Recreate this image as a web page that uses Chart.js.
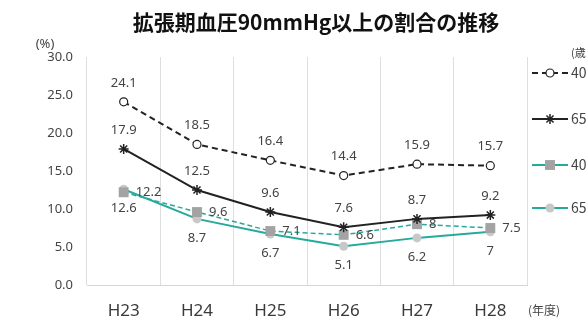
<!DOCTYPE html>
<html>
<head>
<meta charset="utf-8">
<script src="https://cdn.jsdelivr.net/npm/chart.js@4"></script>
<style>
  html, body { margin: 0; padding: 0; background: #fff; }
  #wrap { width: 586px; height: 321px; }
</style>
</head>
<body>
<div id="wrap"><canvas id="c" width="586" height="321"></canvas></div>
<script>
// 年度
const years = ['H23', 'H24', 'H25', 'H26', 'H27', 'H28'];
// 拡張期血圧90mmHg以上の割合 (%)
const male40to64   = [24.1, 18.5, 16.4, 14.4, 15.9, 15.7];
const male65to74   = [17.9, 12.5, 9.6, 7.6, 8.7, 9.2];
const female40to64 = [12.2, 9.6, 7.1, 6.6, 8, 7.5];
const female65to74 = [12.6, 8.7, 6.7, 5.1, 6.2, 7];
const seriesNames = ['40～64歳男性', '65～74歳男性', '40～64歳女性', '65～74歳女性'];
const yTicks = [0, 5, 10, 15, 20, 25, 30];

const TEAL = '#27a99b';
const INK = '#222222';
const LABEL = '#444444';
const FONT = '"Noto Sans", "Noto Sans CJK JP", sans-serif';
const JFONT = '"Noto Sans CJK JP", "Noto Sans", sans-serif';

// value labels beside each point: dx/dy from the point, alignment
const labelPlacement = [
  { dx: 0, dy: -19, align: 'center' },
  { dx: 0, dy: -19, align: 'center' },
  { dx: 12, dy: 0, align: 'left' },
  { dx: 0, dy: 19, align: 'center' }
];

// legend key line dash per series (the key for the third series is solid)
const legendDash = [[6, 4], [], [], []];

const decorations = {
  id: 'decorations',
  afterDatasetsDraw(chart) {
    const ctx = chart.ctx;
    ctx.save();
    ctx.textBaseline = 'middle';
    ctx.font = '13px ' + FONT;
    ctx.fillStyle = LABEL;
    chart.data.datasets.forEach((ds, di) => {
      const meta = chart.getDatasetMeta(di);
      const p = labelPlacement[di];
      ctx.textAlign = p.align;
      meta.data.forEach((pt, i) => {
        ctx.fillText(String(ds.data[i]), pt.x + p.dx, pt.y + p.dy);
      });
    });
    ctx.restore();
  },
  afterDraw(chart) {
    const ctx = chart.ctx;
    ctx.save();
    // title
    ctx.fillStyle = '#111';
    ctx.font = 'bold 21px ' + JFONT;
    ctx.textAlign = 'center';
    ctx.textBaseline = 'middle';
    ctx.fillText('拡張期血圧90mmHg以上の割合の推移', 316, 22);
    // unit labels
    ctx.fillStyle = LABEL;
    ctx.font = '13px ' + FONT;
    ctx.fillText('(%)', 45, 44);
    ctx.font = '12px ' + JFONT;
    ctx.textAlign = 'left';
    ctx.fillText('(年度)', 528, 310);
    ctx.font = '11px ' + JFONT;
    ctx.fillText('(歳)', 571, 53);

    // legend
    const ys = [73, 119, 165, 208];
    chart.data.datasets.forEach((ds, di) => {
      const y = ys[di];
      ctx.save();
      ctx.strokeStyle = ds.borderColor;
      ctx.lineWidth = 2;
      ctx.setLineDash(legendDash[di]);
      ctx.beginPath();
      ctx.moveTo(532, y);
      ctx.lineTo(568, y);
      ctx.stroke();
      ctx.restore();
      ctx.save();
      ctx.fillStyle = ds.pointBackgroundColor;
      ctx.strokeStyle = ds.pointBorderColor;
      ctx.lineWidth = ds.pointBorderWidth;
      Chart.helpers.drawPoint(ctx, {
        pointStyle: ds.pointStyle,
        radius: ds.pointRadius,
        borderWidth: ds.pointBorderWidth
      }, 550, y);
      ctx.restore();
      ctx.fillStyle = LABEL;
      ctx.font = '14px ' + JFONT;
      ctx.textAlign = 'left';
      ctx.textBaseline = 'middle';
      ctx.fillText(ds.label, 571, y);
    });
    ctx.restore();
  }
};

new Chart(document.getElementById('c'), {
  type: 'line',
  data: {
    labels: years,
    datasets: [
      {
        label: seriesNames[0], data: male40to64,
        borderColor: INK, borderWidth: 2, borderDash: [6, 4],
        pointStyle: 'circle', pointRadius: 4,
        pointBackgroundColor: '#fff', pointBorderColor: INK, pointBorderWidth: 1.2
      },
      {
        label: seriesNames[1], data: male65to74,
        borderColor: INK, borderWidth: 2,
        pointStyle: 'star', pointRadius: 5,
        pointBackgroundColor: INK, pointBorderColor: INK, pointBorderWidth: 1.5
      },
      {
        label: seriesNames[2], data: female40to64,
        borderColor: TEAL, borderWidth: 1.5, borderDash: [5, 3],
        pointStyle: 'rect', pointRadius: 7,
        pointBackgroundColor: '#a3a3a3', pointBorderColor: '#a3a3a3', pointBorderWidth: 0
      },
      {
        label: seriesNames[3], data: female65to74,
        borderColor: TEAL, borderWidth: 2,
        pointStyle: 'circle', pointRadius: 4.5,
        pointBackgroundColor: '#c8c8c8', pointBorderColor: '#c8c8c8', pointBorderWidth: 0
      }
    ]
  },
  options: {
    responsive: false,
    animation: false,
    events: [],
    layout: { padding: { top: 57, right: 59, left: 0, bottom: 0 } },
    plugins: { legend: { display: false }, title: { display: false }, tooltip: { enabled: false } },
    elements: { line: { tension: 0 } },
    scales: {
      x: {
        offset: true,
        grid: { offset: true, color: '#dedede', lineWidth: 1, drawTicks: false },
        border: { display: true, color: '#d6d6d6', width: 1 },
        ticks: { color: '#3a3a3a', padding: 16, font: { family: FONT, size: 17 } },
        afterFit(scale) { scale.height = 36; }
      },
      y: {
        min: 0, max: 30,
        afterBuildTicks(scale) { scale.ticks = yTicks.map(v => ({ value: v })); },
        grid: { display: false, drawTicks: false },
        border: { display: false },
        ticks: {
          color: '#444', padding: 14, font: { family: FONT, size: 13 },
          callback: v => Number(v).toFixed(1)
        },
        afterFit(scale) { scale.width = 87; }
      }
    }
  },
  plugins: [decorations]
});
</script>
</body>
</html>
